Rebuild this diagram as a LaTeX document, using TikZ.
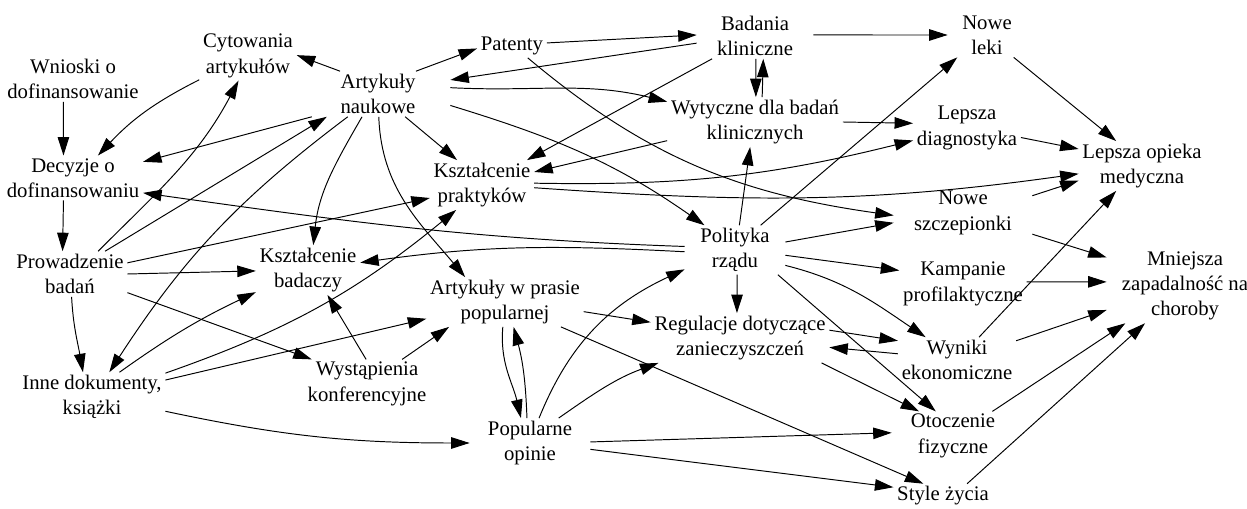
\documentclass[tikz,border=0pt]{standalone}
\usepackage{fontspec}
\setmainfont{Liberation Serif}
\usetikzlibrary{arrows.meta}
\begin{document}
\begin{tikzpicture}[x=0.02cm,y=-0.02cm,
  lb/.style={align=center, inner xsep=0.07cm, inner ysep=0.05cm,
    font=\fontsize{11.8pt}{14.4pt}\selectfont},
  e/.style={-{Triangle[length=0.37cm,width=0.23cm]}, line width=0.55pt}]
\useasboundingbox (0,0) rectangle (1247,509);

% nodes
\node[lb] (wn) at (73,79) {Wnioski o\\dofinansowanie};
\node[lb] (cyt) at (248,56) {Cytowania\\artykułów};
\node[lb, minimum width=2.88cm] (art) at (378,94) {Artykuły\\naukowe};
\node[lb] (dec) at (73,178) {Decyzje o\\dofinansowaniu};
\node[lb] (prow) at (70,274) {Prowadzenie\\badań};
\node[lb] (inne) at (92,397) {Inne dokumenty,\\książki};
\node[lb] (kb) at (308,270) {Kształcenie\\badaczy};
\node[lb] (wyst) at (367,384) {Wystąpienia\\konferencyjne};
\node[lb] (kp) at (482,185) {Kształcenie\\praktyków};
\node[lb] (pat) at (512,46) {Patenty};
\node[lb, minimum width=2.32cm] (bk) at (755,36) {Badania\\kliniczne};
\node[lb] (wyt) at (755,122) {Wytyczne dla badań\\klinicznych};
\node[lb, minimum width=2cm] (pol) at (735,250) {Polityka\\rządu};
\node[lb] (prasa) at (505,302) {Artykuły w prasie\\popularnej};
\node[lb] (reg) at (740,338) {Regulacje dotyczące\\zanieczyszczeń};
\node[lb, minimum width=2.4cm] (pop) at (530,443) {Popularne\\opinie};
\node[lb, minimum width=1.56cm] (leki) at (987,35) {Nowe\\leki};
\node[lb] (diag) at (967,128) {Lepsza\\diagnostyka};
\node[lb] (opieka) at (1142,166) {Lepsza opieka\\medyczna};
\node[lb, minimum width=2.76cm] (szcz) at (963,213) {Nowe\\szczepionki};
\node[lb] (kamp) at (963,284) {Kampanie\\profilaktyczne};
\node[lb, minimum width=3.12cm] (mniej) at (1185,286) {Mniejsza\\zapadalność na\\choroby};
\node[lb] (wyn) at (957,360) {Wyniki\\ekonomiczne};
\node[lb, minimum width=2.44cm] (otocz) at (953,436) {Otoczenie\\fizyczne};
\node[lb] (style) at (943,496) {Style życia};

% research and funding
\draw[e] (wn.247) -- (dec.113);
\draw[e] (cyt.206) to[bend right=10] (dec.42);
\draw[e] (art.149) -- (cyt.1);
\draw[e] (art.31) -- (pat.184);
\draw[e] (pat.5) -- (bk.179);
\draw[e] (bk.187) -- (art.11);
\draw[e] (art.5) to[out=-3,in=166] (wyt.167);
\draw[e] (art.-9) to[out=-17,in=145] (pol.141);
\draw[e] (art.320) -- (kp.135);
\draw[e] (art.199) -- (dec.13);
\draw[e] (prow.33) -- (art.204);
\draw[e] (prow.39) to[out=45,in=242] (cyt.249);
\draw[e] (art.217) to[bend right=10] (inne.55);
\draw[e] (art.235) to[out=240,in=84] (kb.78);
\draw[e] (art.272) to[out=-88,in=130] (prasa.148);
\draw[e] (dec.247) -- (prow.108);
\draw[e] (prow.11) -- (kp.194);
\draw[e] (prow.0) -- (kb.181);
\draw[e] (prow.342) -- (wyst.156);
\draw[e] (prow.274) to[out=-87,in=100] (inne.110);
\draw[e] (inne.42) to[bend left=5] (kb.203);
\draw[e] (inne.18) to[bend right=10] (kp.224);
\draw[e] (inne.13) -- (prasa.192);
\draw[e] (inne.-11) to[out=-12,in=180] (pop.180);
\draw[e] (wyst.92) -- (kb.308);
\draw[e] (wyst.35) -- (prasa.204);

% policy
\draw[e] (pol.176) to[out=178,in=-8] (dec.348);
\draw[e] (pol.182) to[out=177,in=8] (kb.8);
\draw[e] (bk.208) -- (kp.29);
\draw[e] (wyt.192) -- (kp.14);
\draw[e] (bk.272) -- (wyt.88);
\draw[e] (wyt.74) -- (bk.290);
\draw[e] (bk.1) -- (leki.180);
\draw[e] (pat.323) to[out=-40,in=172] (szcz.182);
\draw[e] (pol.80) -- (wyt.259);
\draw[e] (pol.44) -- (leki.217);
\draw[e] (pol.9) -- (szcz.188);
\draw[e] (pol.354) -- (kamp.168);
\draw[e] (pol.343) to[out=-14,in=146] (wyn.144);
\draw[e] (pol.330) -- (otocz.125);
\draw[e] (pol.275) -- (reg.97);

% health outcomes
\draw[e] (kp.2) to[out=-1,in=194] (diag.193);
\draw[e] (kp.-3) to[out=-4,in=188] (opieka.187);
\draw[e] (wyt.0) -- (diag.175);
\draw[e] (diag.350) -- (opieka.165);
\draw[e] (leki.320) -- (opieka.136);
\draw[e] (szcz.14) -- (opieka.193);
\draw[e] (szcz.343) -- (mniej.160);
\draw[e] (kamp.2) -- (mniej.177);
\draw[e] (wyn.46) -- (opieka.224);
\draw[e] (wyn.18) -- (mniej.197);
\draw[e] (otocz.32) -- (mniej.212);
\draw[e] (style.27) -- (mniej.223);

% regulation, press and public opinion
\draw[e] (reg.5) -- (wyn.162);
\draw[e] (wyn.174) -- (reg.354);
\draw[e] (reg.343) -- (otocz.144);
\draw[e] (prasa.353) -- (reg.170);
\draw[e] (prasa.265) to[out=265,in=103] (pop.110);
\draw[e] (pop.97) to[out=92,in=285] (prasa.289);
\draw[e] (pop.70) to[out=68,in=205] (pol.201);
\draw[e] (pop.41) to[out=35,in=200] (reg.197);
\draw[e] (prasa.336) -- (style.148);
\draw[e] (pop.1) -- (otocz.177);
\draw[e] (pop.354) -- (style.170);
\end{tikzpicture}
\end{document}
